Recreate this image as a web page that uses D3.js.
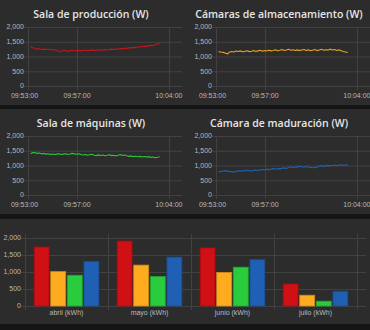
<!DOCTYPE html>
<html>
<head>
<meta charset="utf-8">
<script src="https://cdn.jsdelivr.net/npm/d3@7/dist/d3.min.js"></script>
<style>
  html, body { margin: 0; padding: 0; background: #151515; }
  svg { display: block; }
</style>
</head>
<body>
<svg id="dash" width="370" height="330"></svg>
<script>
// ---- data ----
const sampleStart = "09:53:28";   // first reading of the live feed
const sampleStepSec = 10;          // feed interval (s)

const produccionW = [1330, 1295, 1270, 1255, 1262, 1240, 1250, 1235, 1248, 1228, 1240, 1225, 1205, 1165, 1180, 1220, 1200, 1170, 1195, 1210, 1185, 1200, 1215, 1190, 1205, 1220, 1195, 1210, 1225, 1200, 1215, 1230, 1210, 1225, 1240, 1220, 1235, 1250, 1240, 1255, 1245, 1270, 1260, 1285, 1270, 1300, 1290, 1310, 1300, 1330, 1320, 1345, 1335, 1360, 1350, 1380, 1370, 1400, 1420, 1465];
const almacenamientoW = [1165, 1150, 1140, 1120, 1085, 1150, 1170, 1155, 1185, 1170, 1190, 1160, 1175, 1195, 1165, 1180, 1200, 1170, 1190, 1210, 1175, 1200, 1185, 1215, 1190, 1205, 1225, 1195, 1210, 1235, 1205, 1220, 1245, 1210, 1230, 1205, 1225, 1200, 1220, 1240, 1205, 1225, 1195, 1215, 1235, 1200, 1220, 1245, 1210, 1230, 1215, 1250, 1220, 1235, 1205, 1225, 1195, 1170, 1150, 1140];
const maquinasW = [1400, 1445, 1430, 1410, 1425, 1395, 1410, 1385, 1400, 1375, 1390, 1370, 1385, 1395, 1370, 1385, 1400, 1375, 1390, 1410, 1395, 1380, 1400, 1370, 1355, 1375, 1345, 1365, 1380, 1350, 1335, 1360, 1340, 1355, 1330, 1345, 1365, 1335, 1350, 1325, 1345, 1370, 1340, 1355, 1330, 1310, 1325, 1300, 1315, 1295, 1310, 1290, 1305, 1285, 1300, 1275, 1290, 1260, 1280, 1295];
const maduracionW = [805, 790, 815, 825, 810, 800, 790, 775, 800, 820, 805, 830, 815, 840, 825, 815, 835, 850, 830, 845, 865, 850, 875, 860, 880, 895, 875, 900, 885, 910, 920, 900, 930, 955, 935, 960, 945, 975, 955, 940, 965, 950, 935, 925, 930, 945, 980, 995, 970, 990, 1005, 985, 1000, 1015, 990, 1010, 1025, 1000, 1020, 1015];

const chartTitles = ["Sala de producción (W)", "Cámaras de almacenamiento (W)", "Sala de máquinas (W)", "Cámara de maduración (W)"];
const timeTicks = ["09:53:00", "09:57:00", "10:04:00"];
const powerTicks = [0, 500, 1000, 1500, 2000];

const meses = ["abril (kWh)", "mayo (kWh)", "junio (kWh)", "julio (kWh)"];
const kwhProduccion = [1725, 1900, 1700, 645];
const kwhAlmacenamiento = [1005, 1195, 980, 315];
const kwhMaquinas = [900, 860, 1135, 140];
const kwhMaduracion = [1305, 1430, 1355, 430];
const energyTicks = [0, 500, 1000, 1500, 2000];

// ---- styling ----
const panelBg = "#2c2c2c";
const gridCol = "#414141";
const tickCol = "#b9b9b9";
const titleCol = "#e6e6e6";
const lineColors = ["#c8141b", "#eaa21c", "#2ac63a", "#2162b6"];
const barColors  = ["#cf1015", "#ffab20", "#28cc3c", "#1f5fb4"];
const barStroke  = ["#a50c10", "#d58a14", "#1fa52f", "#184c90"];
const tickFont = "'Liberation Sans', Arial, sans-serif";
const titleFont = "'Open Sans', 'Noto Sans', sans-serif";

const svg = d3.select("#dash");
const parseT = d3.timeParse("%H:%M:%S");
const fmtT = d3.timeFormat("%H:%M:%S");
const fmtN = d3.format(",");

// panels
const panels = [
  { y: 0, h: 105 },
  { y: 109, h: 105 },
  { y: 219, h: 105 }
];
svg.selectAll("rect.panel").data(panels).join("rect")
  .attr("class", "panel")
  .attr("x", 0).attr("y", d => d.y)
  .attr("width", 370).attr("height", d => d.h)
  .attr("fill", panelBg);

// ---- line charts ----
const t0 = parseT(sampleStart);
const series = [produccionW, almacenamientoW, maquinasW, maduracionW];
const colX = [0, 188];
const rowY = [0, 109];

series.forEach((vals, k) => {
  const ox = colX[k % 2], oy = rowY[Math.floor(k / 2)];
  const g = svg.append("g").attr("transform", `translate(${ox},${oy})`);

  const x = d3.scaleTime()
    .domain([parseT("09:53:16"), parseT("10:05:00")])
    .range([28, 182]);
  const y = d3.scaleLinear().domain([0, 2000]).range([86, 27]);

  // horizontal grid
  g.selectAll("line.hg").data(powerTicks).join("line")
    .attr("x1", 24).attr("x2", 182)
    .attr("y1", d => y(d) + 0.5).attr("y2", d => y(d) + 0.5)
    .attr("stroke", gridCol).attr("stroke-width", 1);
  // vertical grid (ticks inside plot) + axis line
  const tt = timeTicks.map(parseT);
  g.selectAll("line.vg").data(tt.filter(t => x(t) >= 28)).join("line")
    .attr("x1", d => Math.round(x(d)) + 0.5).attr("x2", d => Math.round(x(d)) + 0.5)
    .attr("y1", 27).attr("y2", 90)
    .attr("stroke", gridCol).attr("stroke-width", 1);
  g.append("line")
    .attr("x1", 28.5).attr("x2", 28.5).attr("y1", 27).attr("y2", 90)
    .attr("stroke", gridCol);

  // y labels
  g.selectAll("text.yl").data(powerTicks).join("text")
    .attr("x", 24).attr("y", d => y(d))
    .attr("dy", "0.35em").attr("text-anchor", "end")
    .attr("font-family", tickFont).attr("font-size", 7)
    .attr("fill", tickCol)
    .text(d => fmtN(d));
  // x labels
  g.selectAll("text.xl").data(tt).join("text")
    .attr("x", d => x(d)).attr("y", 96)
    .attr("dy", "0.35em").attr("text-anchor", "middle")
    .attr("font-family", tickFont).attr("font-size", 7)
    .attr("fill", tickCol)
    .text(d => fmtT(d));

  // title
  g.append("text")
    .attr("x", 91).attr("y", 14).attr("dy", "0.35em")
    .attr("text-anchor", "middle")
    .attr("font-family", titleFont).attr("font-size", 10.5).attr("font-weight", 600)
    .attr("fill", titleCol)
    .text(chartTitles[k]);

  // line
  const pts = vals.map((v, i) => ({ t: new Date(t0.getTime() + i * sampleStepSec * 1000), v }));
  g.append("path")
    .datum(pts)
    .attr("fill", "none")
    .attr("stroke", lineColors[k])
    .attr("stroke-width", 1.1)
    .attr("stroke-linejoin", "round")
    .attr("d", d3.line().x(d => x(d.t)).y(d => y(d.v)));
});

// ---- bar chart ----
const bg = svg.append("g");
const bx = d3.scaleBand().domain(meses).range([25, 357]).paddingInner(0).paddingOuter(0);
const by = d3.scaleLinear().domain([0, 2000]).range([306, 237.6]);
const sub = d3.scaleBand().domain([0, 1, 2, 3])
  .range([bx.bandwidth() * 0.1, bx.bandwidth() * 0.9]).paddingInner(0.1).paddingOuter(0.05);

bg.selectAll("line.hg").data(energyTicks).join("line")
  .attr("x1", 21).attr("x2", 366)
  .attr("y1", d => Math.round(by(d)) + 0.5).attr("y2", d => Math.round(by(d)) + 0.5)
  .attr("stroke", gridCol);
const bounds = [bx.range()[0]].concat(meses.map(m => bx(m) + bx.bandwidth()));
bg.selectAll("line.vg").data(bounds).join("line")
  .attr("x1", d => Math.round(d) + 0.5).attr("x2", d => Math.round(d) + 0.5)
  .attr("y1", 234).attr("y2", 310)
  .attr("stroke", gridCol);

bg.selectAll("text.yl").data(energyTicks).join("text")
  .attr("x", 21).attr("y", d => by(d)).attr("dy", "0.35em")
  .attr("text-anchor", "end")
  .attr("font-family", tickFont).attr("font-size", 7)
  .attr("fill", tickCol)
  .text(d => fmtN(d));
bg.selectAll("text.xl").data(meses).join("text")
  .attr("x", d => bx(d) + bx.bandwidth() / 2).attr("y", 313).attr("dy", "0.35em")
  .attr("text-anchor", "middle")
  .attr("font-family", tickFont).attr("font-size", 7)
  .attr("fill", tickCol)
  .text(d => d);

const kwhSeries = [kwhProduccion, kwhAlmacenamiento, kwhMaquinas, kwhMaduracion];
kwhSeries.forEach((vals, k) => {
  bg.selectAll(null).data(vals).join("rect")
    .attr("x", (d, i) => bx(meses[i]) + sub(k))
    .attr("y", d => by(d))
    .attr("width", sub.bandwidth())
    .attr("height", d => by(0) - by(d))
    .attr("fill", barColors[k])
    .attr("stroke", barStroke[k])
    .attr("stroke-width", 0.8);
});
</script>
</body>
</html>
